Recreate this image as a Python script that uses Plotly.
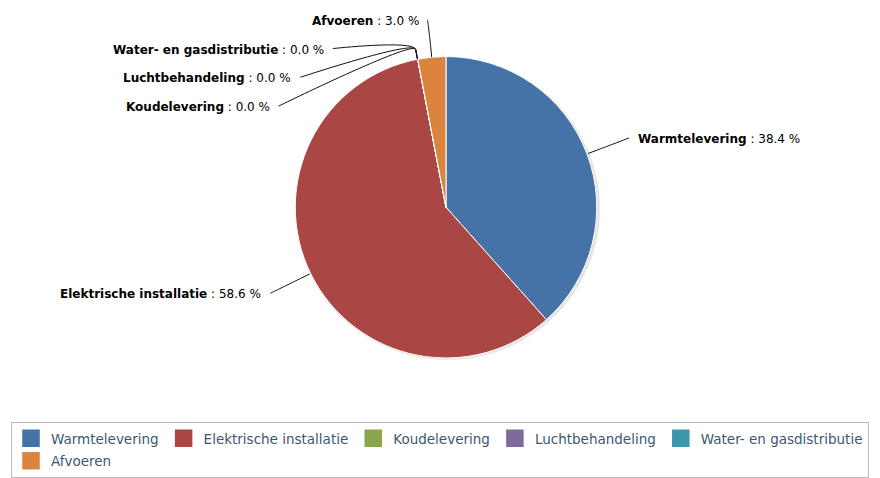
import math
import plotly.graph_objects as go

labels = ["Warmtelevering", "Elektrische installatie", "Koudelevering",
          "Luchtbehandeling", "Water- en gasdistributie", "Afvoeren"]
values = [38.4, 58.6, 0.0, 0.0, 0.0, 3.0]
colors = ["#4572A7", "#AA4643", "#89A54E", "#80699B", "#3D96AE", "#DB843D"]

W, H = 880, 478
cx, cy, r = 446, 209, 152
label_dist = 44
spacing = 29
top_min = 20
break_pad = 10
text_gap = 7
text_dy = 1


def px(x):
    return x / W


def py(y):
    return 1 - y / H


fig = go.Figure()
fig.add_trace(go.Pie(
    labels=labels, values=values, sort=False, direction="clockwise", rotation=0,
    marker=dict(colors=colors, line=dict(color="white", width=1)),
    textinfo="none", hoverinfo="label+percent",
    domain=dict(x=[px(cx - r), px(cx + r)], y=[py(cy + r), py(cy - r)]),
    showlegend=False,
))

# legend entries (one per slice), packed like the original legend
for lab, col in zip(labels, colors):
    fig.add_trace(go.Scatter(
        x=[None], y=[None], mode="markers", name=lab, legendgroup=lab,
        marker=dict(symbol="square", size=16, color=col, line=dict(color=col, width=1.5)),
        hoverinfo="skip",
    ))

total = sum(values)
cum = 0
info = []
R = r + label_dist
for i, v in enumerate(values):
    mid = (cum + v / 2) / total * 2 * math.pi
    cum += v
    s, c = math.sin(mid), math.cos(mid)
    info.append(dict(i=i, s=s, c=c, nx=cx + R * s, ny=cy - R * c, left=s < 0))

# soft drop shadow under the pie
shapes = [dict(type="circle", xref="paper", yref="paper", layer="below",
               x0=px(cx - r + 1), x1=px(cx + r + 2), y0=py(cy + r + 2), y1=py(cy - r + 1),
               fillcolor="rgba(0,0,0,0.10)", line=dict(width=0))]
annotations = []
for side_left in (True, False):
    items = [d for d in info if d["left"] == side_left]
    items.sort(key=lambda d: (d["ny"], -d["i"] if side_left else d["i"]))
    prev = None
    for d in items:
        y = max(d["ny"], top_min)
        if prev is not None:
            y = max(y, prev + spacing)
        prev = y
        sign = -1 if side_left else 1
        if abs(y - d["ny"]) < 10:
            x = d["nx"]
        else:
            dy = y - cy
            x = cx + sign * math.sqrt(max(R * R - dy * dy, 0))
        tx, ty = cx + r * d["s"], cy - r * d["c"]
        bx, by = cx + (r + break_pad) * d["s"], cy - (r + break_pad) * d["c"]
        c2x, c2y = 2 * bx - tx, 2 * by - ty
        path = (f"M {px(x)} {py(y)} C {px(x)} {py(y)} {px(c2x)} {py(c2y)} {px(bx)} {py(by)} "
                f"L {px(tx)} {py(ty)}")
        shapes.append(dict(type="path", xref="paper", yref="paper", path=path,
                           line=dict(color="#111111", width=1)))
        i = d["i"]
        annotations.append(dict(
            xref="paper", yref="paper", showarrow=False,
            x=px(x + sign * text_gap), y=py(y + text_dy),
            xanchor="right" if side_left else "left", yanchor="middle",
            text=f"<b>{labels[i]}</b> : {values[i]:.1f} %",
            font=dict(family="DejaVu Sans", size=12, color="#000000"),
        ))

fig.update_layout(
    width=W, height=H, autosize=False,
    margin=dict(l=0, r=0, t=0, b=0),
    paper_bgcolor="white", plot_bgcolor="white",
    xaxis=dict(visible=False), yaxis=dict(visible=False),
    shapes=shapes, annotations=annotations,
    legend=dict(orientation="h", x=px(11), xanchor="left", y=py(426), yanchor="top",
                bordercolor="#BBBBBB", borderwidth=1, bgcolor="white",
                traceorder="grouped", tracegroupgap=2,
                font=dict(family="DejaVu Sans", size=13.5, color="#3E576F"),
                itemwidth=30),
)
fig.write_html("out.html", config={"displayModeBar": False},
               post_script="document.body.style.margin='0';")
